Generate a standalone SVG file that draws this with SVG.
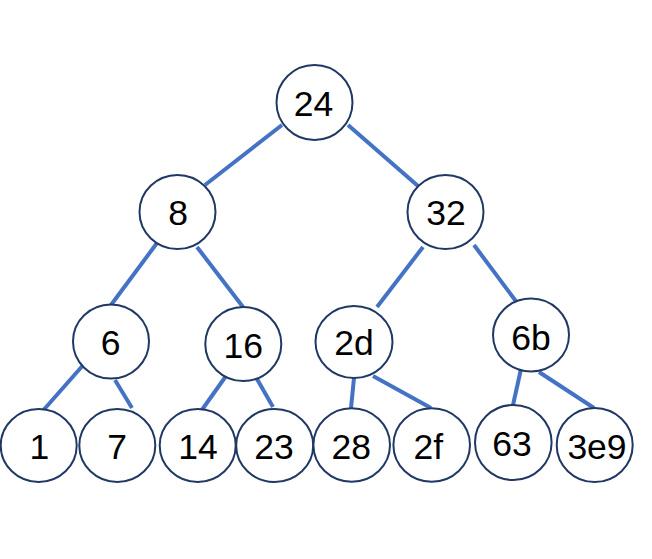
<svg xmlns="http://www.w3.org/2000/svg" width="652" height="559" viewBox="0 0 652 559">
<style>
.e{stroke:#4472C4;stroke-width:4;fill:none}
.n ellipse{fill:#fff;stroke:#1F3864;stroke-width:2}
.n text{font-family:"Liberation Sans",Arial,sans-serif;font-size:35.5px;fill:#000;text-anchor:middle}
</style>
<rect width="652" height="559" fill="#fff"/>
<g id="edges">
<line class="e" x1="282" y1="125" x2="205" y2="185"/>
<line class="e" x1="348" y1="125" x2="418" y2="186"/>
<line class="e" x1="157" y1="243" x2="111" y2="305"/>
<line class="e" x1="197" y1="247" x2="243" y2="307"/>
<line class="e" x1="423" y1="247" x2="377" y2="307"/>
<line class="e" x1="474" y1="245" x2="518" y2="304"/>
<line class="e" x1="85" y1="363" x2="40" y2="414"/>
<line class="e" x1="115" y1="380" x2="132" y2="408"/>
<line class="e" x1="226" y1="376" x2="199" y2="414"/>
<line class="e" x1="257" y1="379" x2="273" y2="407"/>
<line class="e" x1="354" y1="378" x2="351" y2="408"/>
<line class="e" x1="373" y1="376" x2="431" y2="408"/>
<line class="e" x1="521" y1="369" x2="513" y2="405"/>
<line class="e" x1="539" y1="372" x2="594" y2="408"/>
</g>
<g id="n24" class="n"><ellipse cx="314.5" cy="102.5" rx="38" ry="37.5"/><text x="313.5" y="116">24</text></g>
<g id="n8" class="n"><ellipse cx="177.5" cy="212" rx="38" ry="37"/><text x="178" y="225">8</text></g>
<g id="n32" class="n"><ellipse cx="445.5" cy="212" rx="38" ry="37"/><text x="446" y="225">32</text></g>
<g id="n6" class="n"><ellipse cx="111" cy="341.5" rx="38" ry="37"/><text x="110.5" y="355">6</text></g>
<g id="n16" class="n"><ellipse cx="243.3" cy="344" rx="38" ry="37"/><text x="243.3" y="358">16</text></g>
<g id="n2d" class="n"><ellipse cx="354" cy="342" rx="38.5" ry="36"/><text x="354" y="355">2d</text></g>
<g id="n6b" class="n"><ellipse cx="531" cy="335" rx="38" ry="36.5"/><text x="531" y="350">6b</text></g>
<g id="n1" class="n"><ellipse cx="38.7" cy="445.5" rx="38" ry="36.5"/><text x="39.3" y="459">1</text></g>
<g id="n7" class="n"><ellipse cx="117.3" cy="445.5" rx="38" ry="36.5"/><text x="117" y="459">7</text></g>
<g id="n14" class="n"><ellipse cx="197.7" cy="445.5" rx="38" ry="36.5"/><text x="198" y="459">14</text></g>
<g id="n23" class="n"><ellipse cx="274.7" cy="445.5" rx="38.5" ry="36.5"/><text x="274" y="459">23</text></g>
<g id="n28" class="n"><ellipse cx="351.7" cy="445" rx="38.3" ry="36.7"/><text x="351.3" y="459">28</text></g>
<g id="n2f" class="n"><ellipse cx="431.7" cy="445" rx="38.3" ry="36.7"/><text x="428.3" y="459">2f</text></g>
<g id="n63" class="n"><ellipse cx="513.3" cy="442.5" rx="38.3" ry="37.5"/><text x="512" y="456">63</text></g>
<g id="n3e9" class="n"><ellipse cx="594.7" cy="445" rx="38" ry="37"/><text x="597" y="459">3e9</text></g>
</svg>
